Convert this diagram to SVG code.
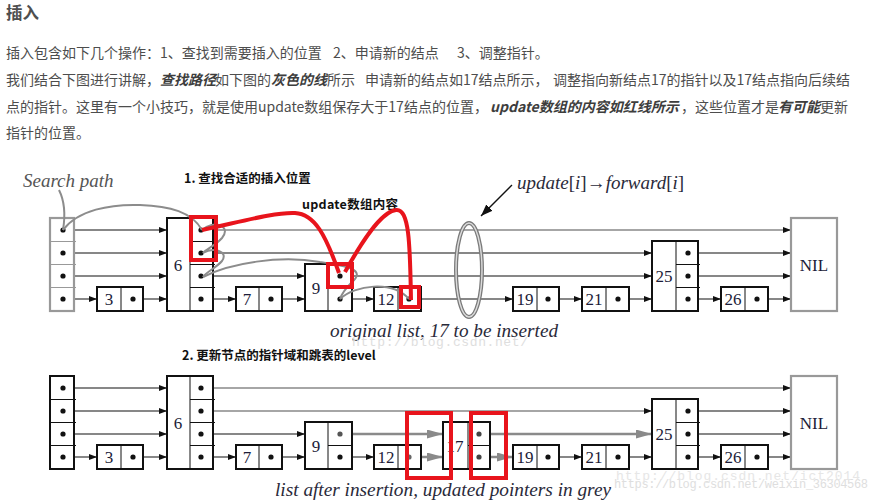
<svg xmlns="http://www.w3.org/2000/svg" width="879" height="503" viewBox="0 0 879 503">
<defs>
<marker id="arr" markerUnits="userSpaceOnUse" markerWidth="8" markerHeight="6" refX="8" refY="3" orient="auto"><path d="M0,0 L8,3 L0,6 z" fill="#111"/></marker>
<marker id="barr" markerUnits="userSpaceOnUse" markerWidth="12" markerHeight="9" refX="12" refY="4.5" orient="auto"><path d="M0,0 L12,4.5 L0,9 z" fill="#111"/></marker>
<marker id="garr" markerUnits="userSpaceOnUse" markerWidth="16" markerHeight="9" refX="16" refY="4.5" orient="auto"><path d="M0,0 L16,4.5 L0,9 z" fill="#8a8a8a"/></marker>
</defs>
<style>
.para{font-family:"Noto Sans CJK SC","Noto Sans",sans-serif;font-size:14px;fill:#4d4d4d}
.bi{font-weight:bold;font-style:italic;fill:#3d3d3d}
.lab{font-family:"Noto Sans CJK SC",sans-serif;font-size:12.5px;font-weight:bold;fill:#111}
.cap{font-family:"Liberation Serif",serif;font-style:italic;font-size:18.5px;fill:#2a2a3a}
.num{font-family:"Liberation Serif",serif;font-size:17px;fill:#1c1c38;text-anchor:middle}
.box{fill:#fff;stroke:#111;stroke-width:2}
.gbox{fill:#fff;stroke:#999;stroke-width:2.2}
.div{stroke:#111;stroke-width:1;fill:none}
.gdiv{stroke:#999;stroke-width:1;fill:none}
.dot{fill:#111}
.ln{stroke:#111;stroke-width:1.2;fill:none;marker-end:url(#arr)}
.gln{stroke:#888;stroke-width:1.6;fill:none;marker-end:url(#arr)}
.upd{stroke:#8a8a8a;stroke-width:2.6;fill:none;marker-end:url(#garr)}
.sp{stroke:#8c8c8c;stroke-width:2;fill:none}
.red{stroke:#e8141c;stroke-width:4;fill:none}
.wm{font-family:"Liberation Mono",monospace;fill:#dedede}
</style>
<rect width="879" height="503" fill="#fff"/>

<g id="text-block">
<text x="6" y="19" style="font-family:'Noto Sans CJK SC',sans-serif;font-size:16.5px;font-weight:bold;fill:#4f4f4f">插入</text>
<text class="para" y="58"><tspan x="6">插入包含如下几个操作：1、查找到需要插入的位置</tspan><tspan x="333">2、申请新的结点</tspan><tspan x="457">3、调整指针。</tspan></text>
<text class="para" y="85"><tspan x="6">我们结合下图进行讲解，</tspan><tspan x="160" class="bi">查找路径</tspan><tspan x="215">如下图的</tspan><tspan x="271" class="bi">灰色的线</tspan><tspan x="327">所示</tspan><tspan x="365">申请新的结点如17结点所示，</tspan><tspan x="553">调整指向新结点17的指针以及17结点指向后续结</tspan></text>
<text class="para" y="112"><tspan x="6">点的指针。这里有一个小技巧，就是使用update数组保存大于17结点的位置，</tspan><tspan x="490" class="bi">update数组的内容如红线所示</tspan><tspan x="681">，这些位置才是</tspan><tspan x="778" class="bi">有可能</tspan><tspan x="820">更新</tspan></text>
<text class="para" x="6" y="138">指针的位置。</text>
</g>

<g id="labels">
<text x="23" y="187" style="font-family:'Liberation Serif',serif;font-style:italic;font-size:19px;fill:#555">Search path</text>
<text class="lab" x="184" y="183">1. 查找合适的插入位置</text>
<text class="lab" x="302" y="209" textLength="96" lengthAdjust="spacing">update数组内容</text>
<text x="517" y="189" style="font-family:'Liberation Serif',serif;font-size:19px;fill:#2a2a3a"><tspan font-style="italic">update</tspan>[<tspan font-style="italic">i</tspan>]→<tspan font-style="italic">forward</tspan>[<tspan font-style="italic">i</tspan>]</text>
<text class="cap" x="330" y="337" textLength="228" lengthAdjust="spacingAndGlyphs">original list, 17 to be inserted</text>
<text class="lab" x="182" y="360">2. 更新节点的指针域和跳表的level</text>
<text class="cap" x="275" y="496" textLength="336" lengthAdjust="spacingAndGlyphs">list after insertion, updated pointers in grey</text>
<text class="wm" x="352" y="346" font-size="13" textLength="176">http://blog.csdn.net/</text>
<text class="wm" x="614" y="488" font-size="12" textLength="254">https://blog.csdn.net/weixin_36304568</text>
<text class="wm" x="616" y="480" font-size="13" style="fill:#e6e6e6" textLength="244">http://blog.csdn.net/ict2014</text>
</g>

<g id="connectors">
<line class="ln" x1="63" y1="230" x2="167" y2="230"/>
<line class="gln" x1="201" y1="230" x2="791" y2="230"/>
<line class="ln" x1="63" y1="253" x2="167" y2="253"/>
<line class="ln" x1="201" y1="253" x2="652" y2="253"/>
<line class="ln" x1="688" y1="253" x2="791" y2="253"/>
<line class="ln" x1="63" y1="276" x2="167" y2="276"/>
<line class="ln" x1="201" y1="276" x2="305" y2="276"/>
<line class="ln" x1="340" y1="276" x2="652" y2="276"/>
<line class="ln" x1="688" y1="276" x2="791" y2="276"/>
<line class="ln" x1="63" y1="299" x2="97" y2="299"/>
<line class="ln" x1="133" y1="299" x2="167" y2="299"/>
<line class="ln" x1="201" y1="299" x2="236" y2="299"/>
<line class="ln" x1="271" y1="299" x2="305" y2="299"/>
<line class="ln" x1="340" y1="299" x2="374" y2="299"/>
<line class="ln" x1="409" y1="299" x2="513" y2="299"/>
<line class="ln" x1="548" y1="299" x2="582" y2="299"/>
<line class="ln" x1="618" y1="299" x2="652" y2="299"/>
<line class="ln" x1="688" y1="299" x2="721" y2="299"/>
<line class="ln" x1="757" y1="299" x2="791" y2="299"/>
<line class="ln" x1="63" y1="388" x2="167" y2="388"/>
<line class="gln" x1="201" y1="388" x2="791" y2="388"/>
<line class="ln" x1="63" y1="411" x2="167" y2="411"/>
<line class="gln" x1="201" y1="411" x2="652" y2="411"/>
<line class="ln" x1="688" y1="411" x2="791" y2="411"/>
<line class="ln" x1="63" y1="434" x2="167" y2="434"/>
<line class="ln" x1="201" y1="434" x2="305" y2="434"/>
<line class="upd" x1="340" y1="434" x2="443" y2="434"/>
<line class="upd" x1="479" y1="434" x2="652" y2="434"/>
<line class="ln" x1="688" y1="434" x2="791" y2="434"/>
<line class="ln" x1="63" y1="457" x2="97" y2="457"/>
<line class="ln" x1="133" y1="457" x2="167" y2="457"/>
<line class="ln" x1="201" y1="457" x2="236" y2="457"/>
<line class="ln" x1="271" y1="457" x2="305" y2="457"/>
<line class="ln" x1="340" y1="457" x2="374" y2="457"/>
<line class="upd" x1="409" y1="457" x2="443" y2="457"/>
<line class="upd" x1="479" y1="457" x2="513" y2="457"/>
<line class="ln" x1="548" y1="457" x2="582" y2="457"/>
<line class="ln" x1="618" y1="457" x2="652" y2="457"/>
<line class="ln" x1="688" y1="457" x2="721" y2="457"/>
<line class="ln" x1="757" y1="457" x2="791" y2="457"/>
<line x1="512" y1="185" x2="481" y2="216" stroke="#111" stroke-width="1.3" marker-end="url(#barr)"/>
</g>

<g id="t-head">
<rect class="gbox" x="50" y="218" width="24" height="93"/>
<path class="gdiv" d="M50,241.5H76M50,264.5H76M50,287.5H76"/>
<circle class="dot" cx="63" cy="230" r="2.6"/><circle class="dot" cx="63" cy="253" r="2.6"/><circle class="dot" cx="63" cy="276" r="2.6"/><circle class="dot" cx="63" cy="299" r="2.6"/>
</g>
<g id="t-n3"><rect class="box" x="97" y="287" width="46" height="24"/><path class="div" d="M121,287V311"/><text class="num" x="109" y="305">3</text><circle class="dot" cx="133" cy="299" r="2.6"/></g>
<g id="t-n6"><rect class="box" x="167" y="218" width="46" height="93"/><path class="div" d="M190,218V311M190,241.5H215M190,264.5H215M190,287.5H215"/><text class="num" x="178" y="271">6</text><circle class="dot" cx="201" cy="230" r="2.6"/><circle class="dot" cx="201" cy="253" r="2.6"/><circle class="dot" cx="201" cy="276" r="2.6"/><circle class="dot" cx="201" cy="299" r="2.6"/></g>
<g id="t-n7"><rect class="box" x="236" y="287" width="46" height="24"/><path class="div" d="M259,287V311"/><text class="num" x="247" y="305">7</text><circle class="dot" cx="271" cy="299" r="2.6"/></g>
<g id="t-n9"><rect class="box" x="305" y="264" width="47" height="47"/><path class="div" d="M328,264V311M328,287.5H352"/><text class="num" x="316" y="294">9</text><circle class="dot" cx="340" cy="276" r="2.6"/><circle class="dot" cx="340" cy="299" r="2.6"/></g>
<g id="t-n12"><rect class="box" x="374" y="287" width="47" height="24"/><path class="div" d="M398,287V311"/><text class="num" x="386" y="305">12</text><circle class="dot" cx="409" cy="299" r="2.6"/></g>
<g id="t-n19"><rect class="box" x="513" y="287" width="46" height="24"/><path class="div" d="M537,287V311"/><text class="num" x="525" y="305">19</text><circle class="dot" cx="548" cy="299" r="2.6"/></g>
<g id="t-n21"><rect class="box" x="582" y="287" width="47" height="24"/><path class="div" d="M606,287V311"/><text class="num" x="594" y="305">21</text><circle class="dot" cx="618" cy="299" r="2.6"/></g>
<g id="t-n25"><rect class="box" x="652" y="241" width="46" height="70"/><path class="div" d="M676,241V311M676,264.5H700M676,287.5H700"/><text class="num" x="664" y="282">25</text><circle class="dot" cx="688" cy="253" r="2.6"/><circle class="dot" cx="688" cy="276" r="2.6"/><circle class="dot" cx="688" cy="299" r="2.6"/></g>
<g id="t-n26"><rect class="box" x="721" y="287" width="47" height="24"/><path class="div" d="M745,287V311"/><text class="num" x="733" y="305">26</text><circle class="dot" cx="757" cy="299" r="2.6"/></g>
<g id="t-nil"><rect class="gbox" x="791" y="218" width="46" height="93" stroke-width="2.6"/><text class="num" x="814" y="271">NIL</text></g>

<g id="update-ring">
<ellipse cx="469" cy="270" rx="13" ry="47" fill="none" stroke="#7a7a7a" stroke-width="4"/>
<ellipse cx="469" cy="270" rx="13" ry="47" fill="none" stroke="#dcdcdc" stroke-width="1.4"/>
</g>

<g id="search-path">
<path class="sp" d="M59,190 Q67,206 63,230"/>
<path class="sp" d="M63,230 C78,210 110,204 140,205 C170,206 192,212 202,230"/>
<path class="sp" d="M202,230 C214,219 232,226 222,238 C215,246 206,249 203,253 C213,247 229,251 222,261 C216,268 206,272 203,277"/>
<path class="sp" d="M203,277 C230,263 280,255 320,262 C348,266 366,270 352,282 C346,288 342,293 340,299"/>
<path class="sp" d="M340,299 C355,285 392,280 409,299"/>
</g>

<g id="update-marks">
<rect class="red" x="191" y="217" width="25" height="43"/>
<rect class="red" x="328" y="264" width="24" height="23"/>
<rect class="red" x="401" y="287" width="18" height="20"/>
<path class="red" d="M202,230 C240,222 275,212 295,213 C315,214 326,236 339,273"/>
<path class="red" d="M345,272 C360,245 380,212 396,210 C410,208 410,250 411,300"/>
</g>

<g id="b-head">
<rect class="box" x="50" y="376" width="24" height="93"/>
<path class="div" d="M50,399.5H76M50,422.5H76M50,445.5H76"/>
<circle class="dot" cx="63" cy="388" r="2.6"/><circle class="dot" cx="63" cy="411" r="2.6"/><circle class="dot" cx="63" cy="434" r="2.6"/><circle class="dot" cx="63" cy="457" r="2.6"/>
</g>
<g id="b-n3"><rect class="box" x="97" y="445" width="46" height="24"/><path class="div" d="M121,445V469"/><text class="num" x="109" y="463">3</text><circle class="dot" cx="133" cy="457" r="2.6"/></g>
<g id="b-n6"><rect class="box" x="167" y="376" width="46" height="93"/><path class="div" d="M190,376V469M190,399.5H215M190,422.5H215M190,445.5H215"/><text class="num" x="178" y="429">6</text><circle class="dot" cx="201" cy="388" r="2.6"/><circle class="dot" cx="201" cy="411" r="2.6"/><circle class="dot" cx="201" cy="434" r="2.6"/><circle class="dot" cx="201" cy="457" r="2.6"/></g>
<g id="b-n7"><rect class="box" x="236" y="445" width="46" height="24"/><path class="div" d="M259,445V469"/><text class="num" x="247" y="463">7</text><circle class="dot" cx="271" cy="457" r="2.6"/></g>
<g id="b-n9"><rect class="box" x="305" y="422" width="47" height="47"/><path class="div" d="M328,422V469M328,445.5H352"/><text class="num" x="316" y="452">9</text><circle cx="340" cy="434" r="2.6" fill="#555"/><circle class="dot" cx="340" cy="457" r="2.6"/></g>
<g id="b-n12"><rect class="box" x="374" y="445" width="47" height="24"/><path class="div" d="M398,445V469"/><text class="num" x="386" y="463">12</text><circle cx="409" cy="457" r="2.6" fill="#666"/></g>
<g id="b-n17"><rect class="box" x="443" y="422" width="47" height="47"/><path class="div" d="M468,422V469M468,445.5H490"/><text class="num" x="455" y="452">17</text><circle cx="479" cy="434" r="2.6" fill="#444"/><circle cx="479" cy="457" r="2.6" fill="#444"/></g>
<g id="b-n19"><rect class="box" x="513" y="445" width="46" height="24"/><path class="div" d="M537,445V469"/><text class="num" x="525" y="463">19</text><circle class="dot" cx="548" cy="457" r="2.6"/></g>
<g id="b-n21"><rect class="box" x="582" y="445" width="47" height="24"/><path class="div" d="M606,445V469"/><text class="num" x="594" y="463">21</text><circle class="dot" cx="618" cy="457" r="2.6"/></g>
<g id="b-n25"><rect class="box" x="652" y="399" width="46" height="70"/><path class="div" d="M676,399V469M676,422.5H700M676,445.5H700"/><text class="num" x="664" y="440">25</text><circle class="dot" cx="688" cy="411" r="2.6"/><circle class="dot" cx="688" cy="434" r="2.6"/><circle class="dot" cx="688" cy="457" r="2.6"/></g>
<g id="b-n26"><rect class="box" x="721" y="445" width="47" height="24"/><path class="div" d="M745,445V469"/><text class="num" x="733" y="463">26</text><circle class="dot" cx="757" cy="457" r="2.6"/></g>
<g id="b-nil"><rect class="gbox" x="791" y="376" width="46" height="93" stroke-width="2.6"/><text class="num" x="814" y="429">NIL</text></g>

<g id="new-marks">
<rect class="red" x="407" y="413" width="44" height="65"/>
<rect class="red" x="471" y="413" width="35" height="65"/>
</g>
</svg>
